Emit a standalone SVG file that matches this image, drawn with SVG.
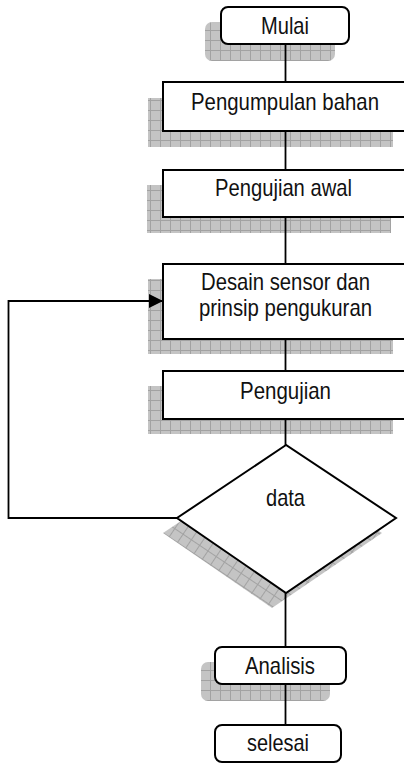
<svg xmlns="http://www.w3.org/2000/svg" width="404" height="765" viewBox="0 0 404 765">
  <style>
    .box { fill: #ffffff; stroke: #000000; stroke-width: 2; }
    .shadow { fill: url(#grid); }
    .dshadow { fill: url(#gridDiag); }
    .lbl { font-family: "Liberation Sans", Arial, sans-serif; font-size: 24px; fill: #111111; text-anchor: middle; }
    .link { fill: none; stroke: #000000; stroke-width: 1.8; }
  </style>
  <defs>
    <!-- grey grid texture used for drop shadows -->
    <pattern id="grid" width="10" height="10" patternUnits="userSpaceOnUse">
      <rect width="10" height="10" fill="#c4c4c4"/>
      <rect x="0" y="0" width="10" height="1" fill="#a2a2a2"/>
      <rect x="0" y="0" width="1" height="10" fill="#a2a2a2"/>
    </pattern>
    <pattern id="gridDiag" width="10" height="10" patternUnits="userSpaceOnUse" patternTransform="rotate(34)">
      <rect width="10" height="10" fill="#c4c4c4"/>
      <rect x="0" y="0" width="10" height="1" fill="#a2a2a2"/>
      <rect x="0" y="0" width="1" height="10" fill="#a2a2a2"/>
    </pattern>
    <marker id="arrow" viewBox="0 0 10 10" refX="10" refY="5" markerWidth="14" markerHeight="14" markerUnits="userSpaceOnUse" orient="auto">
      <path d="M0,0 L10,5 L0,10 Z" fill="#000000"/>
    </marker>
  </defs>

  <g id="mulai">
    <rect class="shadow" x="205" y="22" width="130" height="39" rx="7"/>
    <rect class="box" x="221" y="7" width="128" height="37" rx="7"/>
    <text class="lbl" x="285" y="34" textLength="48" lengthAdjust="spacingAndGlyphs">Mulai</text>
  </g>

  <g id="pengumpulan">
    <rect class="shadow" x="148" y="98" width="245" height="49"/>
    <rect class="box" x="163" y="82" width="242" height="49"/>
    <text class="lbl" x="285" y="110" textLength="188" lengthAdjust="spacingAndGlyphs">Pengumpulan bahan</text>
  </g>

  <g id="pengujian-awal">
    <rect class="shadow" x="147" y="185" width="244" height="48"/>
    <rect class="box" x="163" y="170" width="242" height="47"/>
    <text class="lbl" x="283.5" y="196" textLength="137" lengthAdjust="spacingAndGlyphs">Pengujian awal</text>
  </g>

  <g id="desain">
    <rect class="shadow" x="148" y="279" width="245" height="75"/>
    <rect class="box" x="163" y="264" width="242" height="75"/>
    <text class="lbl" x="285.5" y="290" textLength="169" lengthAdjust="spacingAndGlyphs">Desain sensor dan</text>
    <text class="lbl" x="285.5" y="316" textLength="173" lengthAdjust="spacingAndGlyphs">prinsip pengukuran</text>
  </g>

  <g id="pengujian">
    <rect class="shadow" x="148" y="386" width="245" height="48"/>
    <rect class="box" x="163" y="371" width="242" height="48"/>
    <text class="lbl" x="285.5" y="399" textLength="91" lengthAdjust="spacingAndGlyphs">Pengujian</text>
  </g>

  <g id="data">
    <polygon class="dshadow" points="272,460 163,533 272,608 382,533"/>
    <polygon class="box" points="286,445 177,518 286,593 396,518"/>
    <text class="lbl" x="285.5" y="506" textLength="39" lengthAdjust="spacingAndGlyphs">data</text>
  </g>

  <g id="analisis">
    <rect class="shadow" x="201" y="662" width="129" height="39" rx="7"/>
    <rect class="box" x="215" y="647" width="131" height="37" rx="7"/>
    <text class="lbl" x="280" y="674" textLength="70" lengthAdjust="spacingAndGlyphs">Analisis</text>
  </g>

  <g id="selesai">
    <rect class="box" x="215" y="725" width="126" height="37" rx="7"/>
    <text class="lbl" x="278" y="751" textLength="62" lengthAdjust="spacingAndGlyphs">selesai</text>
  </g>

  <!-- connectors, drawn last so they sit above the shadows -->
  <g id="connectors">
    <line class="link" x1="285.5" y1="44" x2="285.5" y2="82"/>
    <line class="link" x1="285.5" y1="131" x2="285.5" y2="170"/>
    <line class="link" x1="285.5" y1="217" x2="285.5" y2="264"/>
    <line class="link" x1="285.5" y1="339" x2="285.5" y2="371"/>
    <line class="link" x1="285.5" y1="419" x2="285.5" y2="445"/>
    <line class="link" x1="285.5" y1="593" x2="285.5" y2="647"/>
    <line class="link" x1="285.5" y1="684" x2="285.5" y2="725"/>
    <polyline class="link" points="177,518 8.5,518 8.5,301 163,301" marker-end="url(#arrow)"/>
  </g>
</svg>
